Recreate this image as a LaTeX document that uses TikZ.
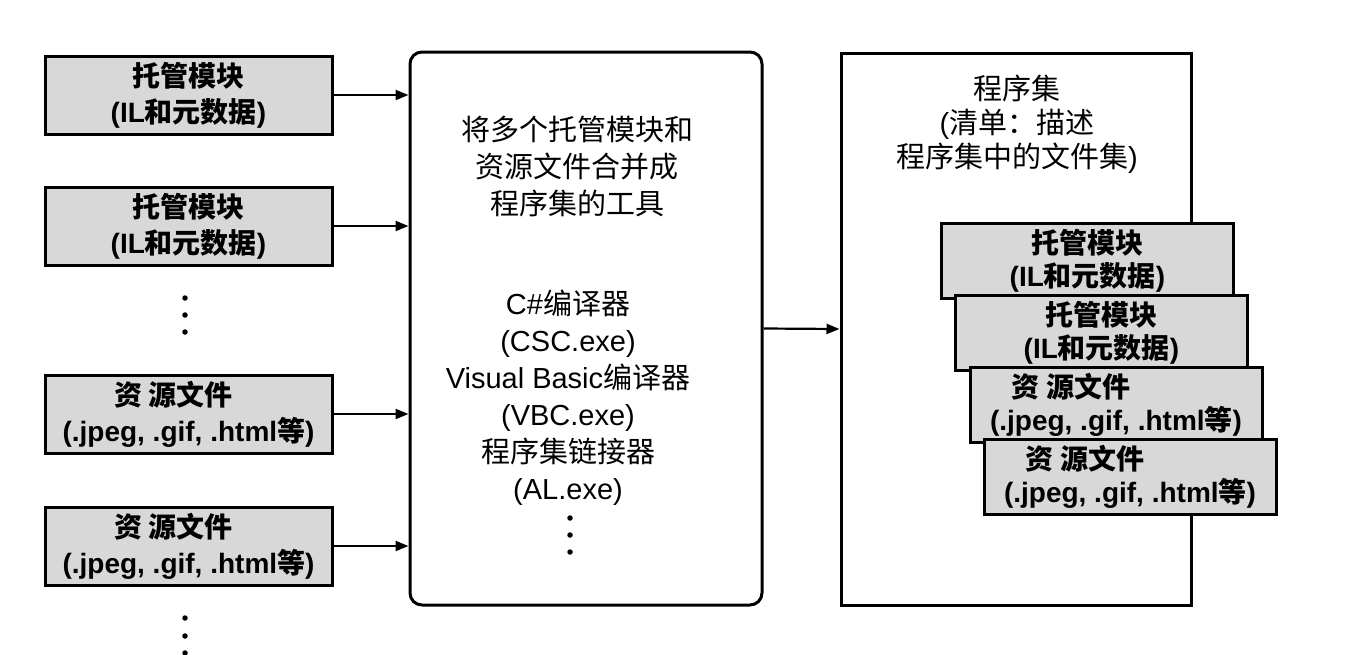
\documentclass[tikz,border=0pt]{standalone}
\usepackage{fontspec}
\setmainfont{Liberation Sans}
\newfontfamily\cjk{Noto Sans CJK SC}
\usetikzlibrary{arrows.meta}
\newcommand\zh[1]{{\cjk #1}}
\definecolor{boxgray}{RGB}{216,216,216}

\begin{document}
\begin{tikzpicture}[x=1pt,y=-1pt,
  txt/.style={font=\fontsize{29}{37}\selectfont, align=center, inner sep=0pt},
  modbox/.style={draw, line width=3pt, fill=boxgray, minimum width=287pt,
    minimum height=78pt, inner sep=0pt, align=center,
    font=\bfseries\fontsize{28}{36}\selectfont},
  partbox/.style={modbox, minimum width=292pt, minimum height=75pt,
    font=\bfseries\fontsize{28}{33}\selectfont},
  arr/.style={line width=2.2pt, -{Triangle[length=13pt,width=10pt]}},
  dot/.style={circle, fill=black, inner sep=0pt, minimum size=5.5pt}
]
\useasboundingbox (0,0) rectangle (1358,654);
\fill[white] (0,0) rectangle (1358,654);

% input modules and resources
\node[modbox] (L1) at (188.5,95)  {\zh{托管模块}\\(IL\zh{和元数据})};
\node[modbox] (L2) at (188.5,226) {\zh{托管模块}\\(IL\zh{和元数据})};
\node[modbox] (L3) at (188.5,414) {\zh{资\hspace{0.25em}源文件}\hspace*{30pt}\\(.jpeg, .gif, .html\zh{等})};
\node[modbox] (L4) at (188.5,546) {\zh{资\hspace{0.25em}源文件}\hspace*{30pt}\\(.jpeg, .gif, .html\zh{等})};

\node[dot] (ld1) at (185,298) {};
\node[dot] (ld2) at (185,315) {};
\node[dot] (ld3) at (185,332) {};
\node[dot] (ld4) at (185,618) {};
\node[dot] (ld5) at (185,636) {};
\node[dot] (ld6) at (185,653) {};

% the combining tool
\node[draw, line width=3pt, rounded corners=12pt, minimum width=352pt,
  minimum height=553pt, inner sep=0pt] (M) at (586,328.5) {};
\node[txt] (Mtop) at (577,166)
  {\zh{将多个托管模块和}\\\zh{资源文件合并成}\\\zh{程序集的工具}};
\node[txt] (Mtools) at (568,397.5)
  {C\#\zh{编译器}\\(CSC.exe)\\Visual Basic\zh{编译器}\\(VBC.exe)\\\zh{程序集链接器}\\(AL.exe)};
\node[dot] (md1) at (570,518) {};
\node[dot] (md2) at (570,535) {};
\node[dot] (md3) at (570,552) {};

\foreach \n in {L1,L2,L3,L4}
  \draw[arr] (\n.east) -- (\n.east -| M.west);

% the resulting assembly
\node[draw, line width=3pt, minimum width=350pt, minimum height=552pt,
  inner sep=0pt] (R) at (1016,329) {};
\node[txt, font=\fontsize{29}{34}\selectfont] (Rtitle) at (1017,124)
  {\zh{程序集}\\(\zh{清单：描述}\\\zh{程序集中的文件集})};

\node[partbox] (S1) at (1087.5,260.5) {\zh{托管模块}\\(IL\zh{和元数据})};
\node[partbox] (S2) at (1101.5,332.5) {\zh{托管模块}\\(IL\zh{和元数据})};
\node[partbox] (S3) at (1116,404.5) {\zh{资\hspace{0.25em}源文件}\hspace*{90pt}\\(.jpeg, .gif, .html\zh{等})};
\node[partbox] (S4) at (1130,476.5) {\zh{资\hspace{0.25em}源文件}\hspace*{90pt}\\(.jpeg, .gif, .html\zh{等})};

\draw[arr] (M.east) -- (R.west);
\end{tikzpicture}
\end{document}
